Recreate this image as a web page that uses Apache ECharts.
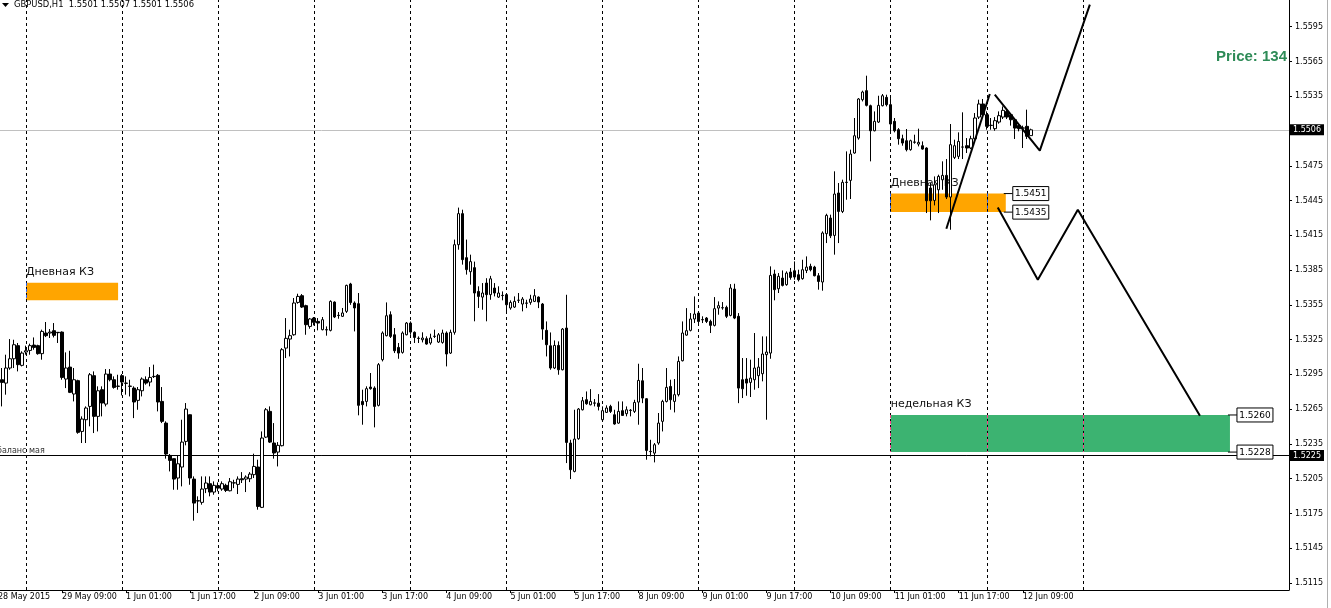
<!DOCTYPE html>
<html><head><meta charset="utf-8">
<script src="https://cdn.jsdelivr.net/npm/echarts@6/dist/echarts.min.js"></script>
<style>html,body{margin:0;padding:0;background:#fff}#c{width:1331px;height:608px}</style>
</head><body><div id="c"></div>
<script>
// ---- data (GBPUSD H1, 28 May 2015 17:00 .. 12 Jun 2015 11:00) ----
const opens = [
1.52830,1.52904,1.52875,1.53005,1.53085,1.53198,1.53028,1.53143,1.53157,1.53203,
1.53198,1.53129,1.53307,1.53307,1.53327,1.53313,1.53315,1.52910,1.53013,1.52781,
1.52896,1.52458,1.52559,1.52674,1.52939,1.52588,1.52818,1.52694,1.52953,1.52904,
1.52849,1.52939,1.52875,1.52849,1.52832,1.52726,1.52809,1.52904,1.52884,1.52931,
1.52942,1.52717,1.52530,1.52251,1.52223,1.52056,1.52151,1.52372,1.52602,1.52047,
1.51860,1.51846,1.51964,1.52007,1.51935,1.51990,1.51961,1.51993,1.51946,1.52013,
1.52001,1.52050,1.52047,1.52050,1.52085,1.52151,1.51803,1.52409,1.52631,1.52358,
1.52280,1.52335,1.53177,1.53255,1.53292,1.53571,1.53629,1.53543,1.53364,1.53436,
1.53407,1.53336,1.53336,1.53330,1.53574,1.53460,1.53451,1.53494,1.53730,1.53566,
1.53560,1.52717,1.52717,1.52841,1.52832,1.52683,1.53077,1.53284,1.53465,1.53292,
1.53183,1.53140,1.53292,1.53393,1.53313,1.53262,1.53249,1.53258,1.53221,1.53279,
1.53229,1.53226,1.53307,1.53134,1.53313,1.54069,1.54337,1.53957,1.53836,1.53871,
1.53666,1.53617,1.53738,1.53638,1.53695,1.53617,1.53632,1.53638,1.53523,1.53531,
1.53590,1.53557,1.53566,1.53571,1.53580,1.53617,1.53557,1.53330,1.53197,1.53005,
1.53200,1.52990,1.53350,1.52358,1.52113,1.52395,1.52645,1.52732,1.52688,1.52704,
1.52702,1.52559,1.52622,1.52674,1.52602,1.52530,1.52637,1.52611,1.52641,1.52631,
1.52711,1.52895,1.52740,1.52286,1.52271,1.52358,1.52545,1.52717,1.52846,1.52717,
1.52775,1.53068,1.53289,1.53330,1.53428,1.53479,1.53423,1.53436,1.53407,1.53373,
1.53522,1.53526,1.53528,1.53459,1.53686,1.53451,1.52904,1.52910,1.52881,1.52904,
1.52939,1.52956,1.53120,1.53134,1.53816,1.53689,1.53781,1.53724,1.53833,1.53844,
1.53810,1.53776,1.53847,1.53882,1.53876,1.53801,1.53747,1.54164,1.54299,1.54149,
1.54515,1.54356,1.54608,1.54624,1.54860,1.54989,1.55320,1.55398,1.55268,1.55052,
1.55127,1.55268,1.55340,1.55277,1.55133,1.55061,1.54983,1.54966,1.54889,1.54955,
1.54937,1.54923,1.54903,1.54558,1.54451,1.54543,1.54629,1.54667,1.54480,1.54822,
1.54831,1.54912,1.54923,1.54903,1.54983,1.55170,1.55283,1.55190,1.55099,1.55070,
1.55127,1.55170,1.55219,1.55190,1.55147,1.55098,1.55076,1.55090,1.55010];
const highs = [
1.52960,1.53005,1.53120,1.53255,1.53249,1.53221,1.53149,1.53198,1.53215,1.53269,
1.53206,1.53336,1.53402,1.53341,1.53393,1.53315,1.53321,1.53140,1.53154,1.53005,
1.52904,1.52588,1.52674,1.52962,1.52976,1.52847,1.52847,1.52996,1.52996,1.52933,
1.52947,1.52953,1.52933,1.52904,1.52847,1.52841,1.52924,1.52933,1.53013,1.53034,
1.52953,1.52841,1.52545,1.52263,1.52225,1.52251,1.52559,1.52703,1.52605,1.52070,
1.51898,1.52070,1.52070,1.52070,1.52027,1.52018,1.52027,1.52007,1.52056,1.52041,
1.52070,1.52107,1.52079,1.52107,1.52266,1.52214,1.52458,1.52660,1.52674,1.52530,
1.52366,1.53177,1.53436,1.53336,1.53609,1.53646,1.53643,1.53551,1.53436,1.53445,
1.53436,1.53445,1.53364,1.53589,1.53580,1.53488,1.53523,1.53724,1.53740,1.53580,
1.53652,1.52818,1.52847,1.52962,1.52847,1.53048,1.53321,1.53571,1.53494,1.53350,
1.53221,1.53321,1.53402,1.53407,1.53321,1.53278,1.53313,1.53278,1.53301,1.53336,
1.53307,1.53336,1.53321,1.53336,1.54113,1.54389,1.54371,1.54113,1.53983,1.53923,
1.53710,1.53738,1.53780,1.53800,1.53738,1.53710,1.53666,1.53652,1.53589,1.53623,
1.53652,1.53617,1.53594,1.53637,1.53686,1.53623,1.53566,1.53407,1.53312,1.53243,
1.53235,1.53350,1.53637,1.52386,1.52645,1.52660,1.52755,1.52803,1.52823,1.52737,
1.52780,1.52674,1.52683,1.52688,1.52645,1.52717,1.52717,1.52674,1.52651,1.52731,
1.53042,1.53005,1.52746,1.52386,1.52358,1.52617,1.52731,1.53005,1.52904,1.52910,
1.53105,1.53407,1.53522,1.53479,1.53623,1.53494,1.53451,1.53445,1.53422,1.53617,
1.53580,1.53574,1.53543,1.53729,1.53732,1.53479,1.53091,1.53091,1.53077,1.53307,
1.53091,1.53278,1.53278,1.53882,1.53853,1.53824,1.53847,1.53839,1.53868,1.53925,
1.53853,1.53939,1.53968,1.53905,1.53887,1.53824,1.54184,1.54336,1.54328,1.54702,
1.54601,1.54630,1.54874,1.54889,1.55162,1.55334,1.55398,1.55527,1.55277,1.55219,
1.55354,1.55369,1.55363,1.55334,1.55162,1.55075,1.55018,1.55067,1.54975,1.55018,
1.55070,1.54960,1.54909,1.54601,1.54658,1.54673,1.54788,1.54808,1.55110,1.54975,
1.55038,1.55211,1.54989,1.55009,1.55205,1.55320,1.55326,1.55219,1.55162,1.55170,
1.55219,1.55262,1.55239,1.55205,1.55162,1.55119,1.55096,1.55234,1.55070];
const lows = [
1.52800,1.52674,1.52775,1.52990,1.53005,1.52976,1.53019,1.53120,1.53120,1.53163,
1.53120,1.53077,1.53272,1.53264,1.53269,1.53221,1.52904,1.52832,1.52789,1.52717,
1.52438,1.52358,1.52358,1.52502,1.52444,1.52458,1.52588,1.52674,1.52890,1.52827,
1.52818,1.52769,1.52775,1.52760,1.52573,1.52645,1.52760,1.52861,1.52847,1.52919,
1.52631,1.52530,1.52223,1.52113,1.51955,1.51955,1.51984,1.52338,1.51998,1.51688,
1.51754,1.51826,1.51926,1.51898,1.51912,1.51941,1.51946,1.51935,1.51941,1.51969,
1.51918,1.52013,1.51935,1.52021,1.52056,1.51783,1.51797,1.52401,1.52358,1.52223,
1.52156,1.52329,1.53091,1.53105,1.53284,1.53560,1.53523,1.53292,1.53344,1.53373,
1.53330,1.53330,1.53284,1.53321,1.53436,1.53430,1.53445,1.53480,1.53550,1.53321,
1.52597,1.52516,1.52674,1.52818,1.52493,1.52674,1.53062,1.53278,1.53264,1.53134,
1.53085,1.53129,1.53287,1.53292,1.53221,1.53221,1.53226,1.53206,1.53206,1.53264,
1.53221,1.53215,1.53019,1.53126,1.53293,1.54026,1.53897,1.53811,1.53724,1.53408,
1.53523,1.53508,1.53408,1.53594,1.53623,1.53609,1.53589,1.53494,1.53508,1.53523,
1.53566,1.53494,1.53522,1.53551,1.53574,1.53522,1.53249,1.53105,1.52990,1.52996,
1.52947,1.52985,1.52185,1.52047,1.52105,1.52386,1.52639,1.52688,1.52683,1.52674,
1.52639,1.52553,1.52617,1.52617,1.52516,1.52524,1.52593,1.52588,1.52588,1.52617,
1.52516,1.52702,1.52214,1.52243,1.52191,1.52343,1.52458,1.52708,1.52645,1.52622,
1.52760,1.53062,1.53284,1.53321,1.53393,1.53393,1.53393,1.53393,1.53307,1.53364,
1.53465,1.53508,1.53436,1.53451,1.53427,1.52702,1.52746,1.52766,1.52755,1.52818,
1.52832,1.52890,1.52559,1.53085,1.53589,1.53652,1.53709,1.53715,1.53767,1.53767,
1.53752,1.53767,1.53824,1.53839,1.53796,1.53681,1.53672,1.54083,1.54126,1.53983,
1.54083,1.54342,1.54457,1.54463,1.54854,1.54975,1.55305,1.55262,1.54788,1.55047,
1.55119,1.55262,1.55262,1.55047,1.55038,1.54932,1.54923,1.54874,1.54880,1.54940,
1.54917,1.54889,1.54342,1.54279,1.54408,1.54342,1.54543,1.54463,1.54198,1.54808,
1.54808,1.54808,1.54860,1.54894,1.54975,1.55153,1.55176,1.55061,1.55061,1.55052,
1.55113,1.55153,1.55153,1.55096,1.54981,1.55047,1.54903,1.54981,1.55010];
const closes = [
1.52900,1.52881,1.53005,1.53085,1.53206,1.53034,1.53134,1.53154,1.53198,1.53183,
1.53129,1.53321,1.53284,1.53315,1.53287,1.53310,1.52924,1.53005,1.52795,1.52904,
1.52450,1.52565,1.52660,1.52947,1.52588,1.52809,1.52703,1.52953,1.52904,1.52838,
1.52847,1.52884,1.52873,1.52847,1.52712,1.52818,1.52910,1.52875,1.52924,1.52933,
1.52712,1.52545,1.52263,1.52208,1.52047,1.52179,1.52366,1.52651,1.52056,1.51840,
1.51858,1.51961,1.52013,1.51935,1.51993,1.51969,1.52007,1.51949,1.52024,1.52015,
1.52047,1.52041,1.52064,1.52090,1.52156,1.51811,1.52401,1.52645,1.52366,1.52272,
1.52338,1.53163,1.53261,1.53284,1.53566,1.53623,1.53531,1.53379,1.53428,1.53399,
1.53393,1.53422,1.53334,1.53580,1.53445,1.53458,1.53480,1.53718,1.53570,1.53523,
1.52683,1.52689,1.52827,1.52827,1.52674,1.53034,1.53307,1.53456,1.53278,1.53154,
1.53134,1.53307,1.53393,1.53315,1.53269,1.53260,1.53264,1.53212,1.53264,1.53278,
1.53292,1.53307,1.53126,1.53313,1.54069,1.54337,1.53940,1.53854,1.53923,1.53652,
1.53623,1.53652,1.53638,1.53775,1.53652,1.53652,1.53630,1.53551,1.53571,1.53580,
1.53589,1.53600,1.53564,1.53600,1.53629,1.53574,1.53341,1.53206,1.53005,1.53200,
1.52990,1.53341,1.52363,1.52128,1.52392,1.52651,1.52723,1.52697,1.52717,1.52702,
1.52674,1.52637,1.52660,1.52631,1.52522,1.52631,1.52596,1.52645,1.52639,1.52708,
1.52898,1.52746,1.52294,1.52284,1.52343,1.52530,1.52717,1.52838,1.52731,1.52775,
1.53062,1.53307,1.53327,1.53428,1.53471,1.53407,1.53421,1.53407,1.53373,1.53517,
1.53543,1.53524,1.53451,1.53695,1.53436,1.52832,1.52826,1.52875,1.52918,1.53005,
1.53013,1.53126,1.53143,1.53804,1.53681,1.53796,1.53718,1.53824,1.53787,1.53790,
1.53767,1.53853,1.53876,1.53853,1.53801,1.53752,1.54170,1.54322,1.54146,1.54506,
1.54356,1.54607,1.54606,1.54851,1.55009,1.55326,1.55386,1.55271,1.55052,1.55133,
1.55271,1.55354,1.55277,1.55110,1.55052,1.54983,1.54946,1.54889,1.54966,1.54953,
1.54952,1.54894,1.54448,1.54448,1.54586,1.54658,1.54667,1.54480,1.54932,1.54923,
1.54960,1.54911,1.54903,1.54983,1.55162,1.55283,1.55190,1.55090,1.55098,1.55139,
1.55182,1.55228,1.55170,1.55147,1.55075,1.55070,1.55075,1.55004,1.55060];

const futureBars = 64;                 // empty space (chart shift) to the right
const tickLabels = ['28 May 2015','29 May 09:00','1 Jun 01:00','1 Jun 17:00','2 Jun 09:00','3 Jun 01:00',
  '3 Jun 17:00','4 Jun 09:00','5 Jun 01:00','5 Jun 17:00','8 Jun 09:00','9 Jun 01:00','9 Jun 17:00',
  '10 Jun 09:00','11 Jun 01:00','11 Jun 17:00','12 Jun 09:00'];
const tickStep = 16;                   // bars between time labels
const dayStarts = [7,31,55,79,103,127,151,175,199,223,247,271]; // bar index of each 00:00
const priceTicks = [1.5115,1.5145,1.5175,1.5205,1.5235,1.5265,1.5295,1.5325,1.5355,1.5385,1.5415,1.5445,1.5475,1.5535,1.5565,1.5595];
const currentPrice = 1.5506;
const balanceLevel = 1.5225;
const headerText = 'GBPUSD,H1  1.5501 1.5507 1.5501 1.5506';

const zoneNames  = ['Дневная КЗ','Дневная КЗ','недельная КЗ'];
const zoneStart  = [7, 223, 223];
const zoneEnd    = [30, 251.75, 307.75];
const zoneTop    = [1.5374, 1.5451, 1.5260];
const zoneBottom = [1.5359, 1.5435, 1.5228];
const priceTags  = [[251.75,1.5451],[251.75,1.5435],[307.75,1.5260],[307.75,1.5228]];

const lineA = [[236.9,1.54207],[247.75,1.55369]];
const lineB = [[249,1.55363],[260.25,1.5488],[272.75,1.5614]];
const lineC = [[249.75,1.54389],[259.75,1.53767],[269.75,1.54371],[300.25,1.52594]];

// ---- build ----
const nCat = opens.length + futureBars;
const categories = [];
for (let i = 0; i < nCat; i++) categories.push(String(i));
const candles = opens.map((o, i) => [o, closes[i], lows[i], highs[i]]);

const FONT = '"DejaVu Sans", Verdana, sans-serif';
const zoneColors = ['#ffa500','#ffa500','#3cb371'];
const xorColors = ['#2060ff','#2060ff','#ff3c8c'];

const labelIdx = i => i % tickStep === 0 && i / tickStep < tickLabels.length;

const zoneAreas = zoneNames.map((n, k) => [
  {xAxis: zoneStart[k], yAxis: zoneTop[k], name: n,
   itemStyle: {color: zoneColors[k], opacity: 1},
   label: {show: true, formatter: n, position: [0, -16], color: '#111', fontSize: 11, fontFamily: FONT}},
  {xAxis: zoneEnd[k], yAxis: zoneBottom[k]}
]);
const xorSegs = [];
zoneNames.forEach((n, k) => {
  dayStarts.forEach(d => {
    if (d >= zoneStart[k] && d <= zoneEnd[k]) {
      xorSegs.push([{coord: [d, zoneTop[k]], lineStyle: {color: xorColors[k]}}, {coord: [d, zoneBottom[k]]}]);
    }
  });
});

const chart = echarts.init(document.getElementById('c'), null, {renderer: 'canvas'});
chart.setOption({
  animation: false,
  backgroundColor: '#fff',
  textStyle: {fontFamily: FONT},
  grid: {left: -4, right: 42, top: 0, bottom: 18, containLabel: false, outerBoundsMode: 'none'},
  xAxis: [{
    type: 'category', data: categories, boundaryGap: true,
    axisLine: {show: true, onZero: false, lineStyle: {color: '#000', width: 1}},
    axisTick: {show: true, alignWithLabel: true, interval: labelIdx, length: 3, lineStyle: {color: '#000'}},
    axisLabel: {show: true, interval: labelIdx, formatter: (v, i) => tickLabels[i / tickStep] || '',
      align: 'left', margin: 3, fontSize: 8, color: '#000', fontFamily: FONT, hideOverlap: false},
    splitLine: {show: false}
  }, {
    type: 'value', min: -0.5, max: nCat - 0.5, show: false,
    axisLine: {onZero: false}
  }],
  yAxis: {
    type: 'value', position: 'right', min: 1.5109, max: 1.5618, scale: true,
    axisLine: {show: true, onZero: false, lineStyle: {color: '#000', width: 1}},
    axisTick: {show: true, customValues: priceTicks, length: 3, lineStyle: {color: '#000'}},
    axisLabel: {show: true, customValues: priceTicks, formatter: v => v.toFixed(4), margin: 6,
      fontSize: 8, color: '#000', fontFamily: FONT},
    splitLine: {show: false}
  },
  series: [
    { // day separators
      type: 'line', xAxisIndex: 1, data: [], z: 1, silent: true,
      markLine: {symbol: 'none', silent: true, precision: 5, label: {show: false},
        lineStyle: {color: '#000', width: 1, type: [3, 3]},
        data: dayStarts.map(d => ({xAxis: d}))}
    },
    { // price lines
      type: 'line', xAxisIndex: 1, data: [], z: 1, silent: true,
      markLine: {symbol: 'none', silent: true, precision: 5, data: [
        {yAxis: currentPrice, lineStyle: {color: '#c0c0c0', width: 1, type: 'solid'},
         label: {show: true, position: 'end', formatter: currentPrice.toFixed(4), backgroundColor: '#000',
           color: '#fff', padding: [2, 3, 1, 3], fontSize: 8, fontFamily: FONT, distance: 1}},
        {yAxis: balanceLevel, lineStyle: {color: '#000', width: 1, type: 'solid'},
         label: {show: true, position: 'end', formatter: balanceLevel.toFixed(4), backgroundColor: '#000',
           color: '#fff', padding: [2, 3, 1, 3], fontSize: 8, fontFamily: FONT, distance: 1}},
        {yAxis: balanceLevel, lineStyle: {color: '#000', width: 1, type: 'solid'},
         label: {show: true, position: 'insideStartTop', formatter: 'баланс мая', color: '#333',
           fontSize: 8, fontFamily: FONT, distance: 1}}
      ]}
    },
    { // zones
      type: 'line', xAxisIndex: 1, data: [], z: 2, silent: true,
      markArea: {silent: true, data: zoneAreas},
      markLine: {symbol: 'none', silent: true, precision: 5, label: {show: false},
        lineStyle: {width: 1, type: [3, 3]}, data: xorSegs}
    },
    {
      type: 'candlestick', data: candles, z: 5, barWidth: 3,
      itemStyle: {color: '#fff', color0: '#000', borderColor: '#000', borderColor0: '#000', borderWidth: 1}
    },
    {type: 'line', xAxisIndex: 1, data: lineA, z: 6, symbol: 'none', lineStyle: {color: '#000', width: 2}, silent: true},
    {type: 'line', xAxisIndex: 1, data: lineB, z: 6, symbol: 'none', lineStyle: {color: '#000', width: 2}, silent: true},
    {type: 'line', xAxisIndex: 1, data: lineC, z: 6, symbol: 'none', lineStyle: {color: '#000', width: 2}, silent: true},
    {
      type: 'custom', xAxisIndex: 1, data: priceTags, z: 7, silent: true, clip: false,
      renderItem: (params, api) => {
        const p = api.coord([api.value(0), api.value(1)]);
        const txt = api.value(1).toFixed(4);
        const bx = p[0] + 7, w = 36, h = 14;
        return {type: 'group', children: [
          {type: 'line', shape: {x1: p[0] - 2, y1: p[1], x2: bx, y2: p[1]}, style: {stroke: '#000', lineWidth: 1}},
          {type: 'rect', shape: {x: bx, y: p[1] - h / 2, width: w, height: h}, style: {fill: '#fff', stroke: '#000', lineWidth: 1}},
          {type: 'text', style: {text: txt, x: bx + w / 2, y: p[1] + 0.5, align: 'center', verticalAlign: 'middle',
            font: '9px ' + FONT, fill: '#000'}}
        ]};
      }
    }
  ],
  graphic: [
    {type: 'polygon', shape: {points: [[2, 3], [9, 3], [5.5, 7]]}, style: {fill: '#000'}},
    {type: 'text', left: 14, top: 1, style: {text: headerText, font: '8.4px ' + FONT, fill: '#000'}},
    {type: 'text', right: 44, top: 49, style: {text: 'Price: 134', font: 'bold 15px "Liberation Sans", Arial, sans-serif', fill: '#2e8b57'}},
    {type: 'line', shape: {x1: 1327.5, y1: 0, x2: 1327.5, y2: 608}, style: {stroke: '#b0b0b0', lineWidth: 1}}
  ]
});
</script>
</body></html>
